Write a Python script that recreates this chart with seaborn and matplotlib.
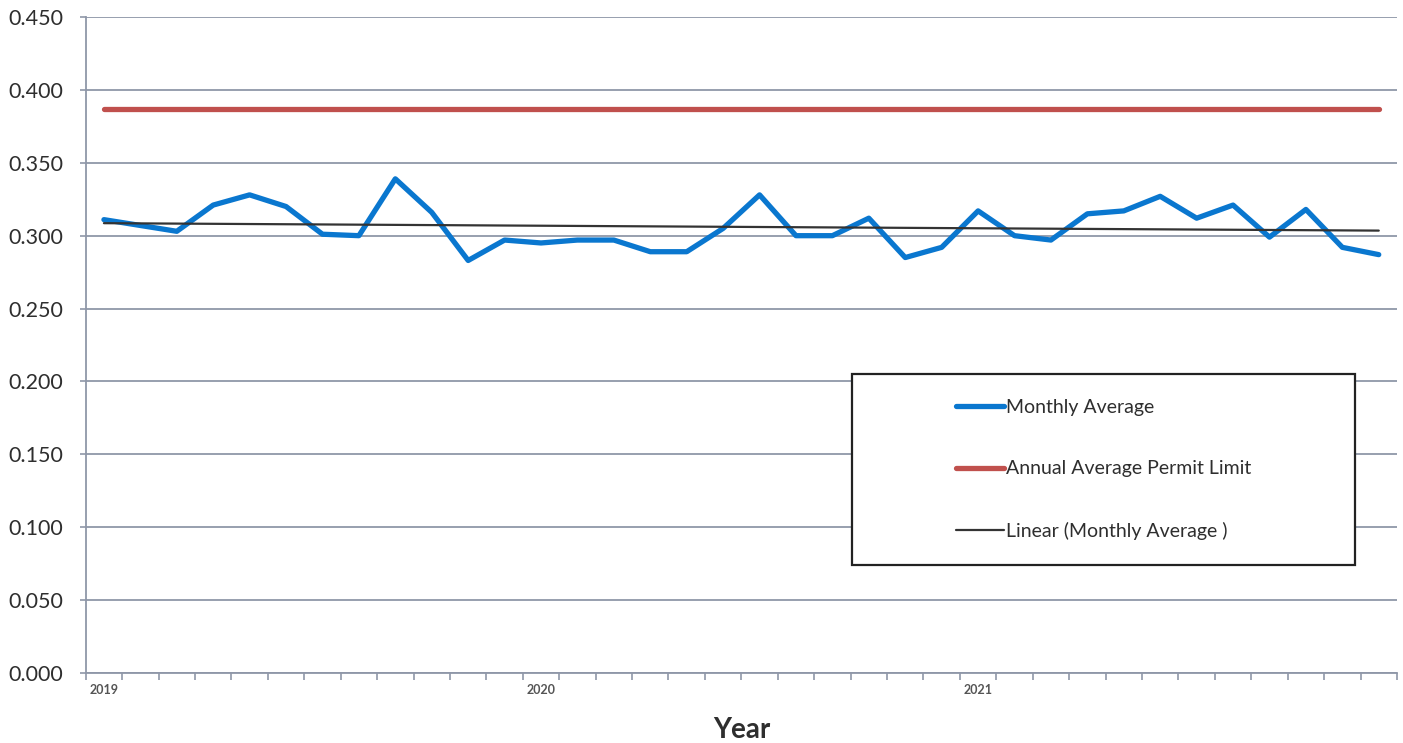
"""
Monthly average vs. annual average permit limit, 2019-2021.
"""

import matplotlib

matplotlib.use("Agg")
import matplotlib.pyplot as plt
import matplotlib.patches as mpatches
import numpy as np
import pandas as pd
import seaborn as sns

YEARS = ["2019", "2020", "2021"]
MONTHLY_AVG = [
    0.311, 0.307, 0.303, 0.321, 0.328, 0.320, 0.301, 0.300, 0.339, 0.316, 0.283, 0.297,
    0.295, 0.297, 0.297, 0.289, 0.289, 0.305, 0.328, 0.300, 0.300, 0.312, 0.285, 0.292,
    0.317, 0.300, 0.297, 0.315, 0.317, 0.327, 0.312, 0.321, 0.299, 0.318, 0.292, 0.287,
]
PERMIT_LIMIT = 0.387
Y_TICKS = [0.0, 0.05, 0.10, 0.15, 0.20, 0.25, 0.30, 0.35, 0.40, 0.45]

BLUE = "#0a77cf"
RED = "#c0504d"
TREND = "#333333"
GRID = "#8f97a8"
TEXT = "#2e2e2e"

sns.set_style("white")
plt.rcParams["font.family"] = ["Lato", "DejaVu Sans"]

n = len(MONTHLY_AVG)
idx = np.arange(n)
slope, intercept = np.polyfit(idx, MONTHLY_AVG, 1)

df = pd.DataFrame({
    "month": idx,
    "monthly": MONTHLY_AVG,
    "limit": [PERMIT_LIMIT] * n,
    "trend": intercept + slope * idx,
})

fig = plt.figure(figsize=(14.03, 7.43), dpi=100)
ax = fig.add_axes([0.0611, 0.0942, 0.9346, 0.8829])

sns.lineplot(data=df, x="month", y="monthly", ax=ax, color=BLUE, lw=3.8,
             label="Monthly Average", zorder=3)
sns.lineplot(data=df, x="month", y="limit", ax=ax, color=RED, lw=3.8,
             label="Annual Average Permit Limit", zorder=3)
sns.lineplot(data=df, x="month", y="trend", ax=ax, color=TREND, lw=1.6,
             label="Linear (Monthly Average )", zorder=4)

ax.set_xlim(-0.5, n - 0.5)
ax.set_ylim(0, 0.45)
ax.set_yticks(Y_TICKS)
ax.set_yticklabels([f"{v:.3f}" for v in Y_TICKS], fontsize=15.5, color=TEXT)
ax.tick_params(axis="y", length=4.5, width=1.2, color=GRID, pad=11.5, left=True)

# year labels sit in the January slot, ticks mark the month boundaries
ax.set_xticks(np.arange(0, n, 12))
ax.set_xticklabels(YEARS, fontsize=9, fontweight="bold", color="#555555")
ax.tick_params(axis="x", length=0, pad=8)
ax.set_xticks(np.arange(-0.5, n, 1), minor=True)
ax.tick_params(axis="x", which="minor", length=5, width=1.2, color=GRID, bottom=True)

ax.grid(axis="y", color=GRID, lw=1.3)
ax.set_axisbelow(True)
for side in ["top", "right"]:
    ax.spines[side].set_visible(False)
for side in ["left", "bottom"]:
    ax.spines[side].set_color(GRID)
    ax.spines[side].set_linewidth(1.3)

ax.set_xlabel("Year", fontsize=20, fontweight="bold", color=TEXT, labelpad=15)
ax.set_ylabel("")

# legend box drawn separately so its size matches the original
box = mpatches.Rectangle((0.6073, 0.2396), 0.3585, 0.2570, transform=fig.transFigure,
                         facecolor="white", edgecolor="#222222", lw=1.6, zorder=5)
fig.add_artist(box)
leg = ax.legend(loc="center", bbox_to_anchor=(0.7865, 0.3681), bbox_transform=fig.transFigure,
                frameon=False, fontsize=14, labelspacing=2.3, handlelength=2.5,
                handletextpad=0.1, labelcolor=TEXT)
leg.set_zorder(6)
fig.add_artist(leg)

fig.savefig("out.png", dpi=100)
